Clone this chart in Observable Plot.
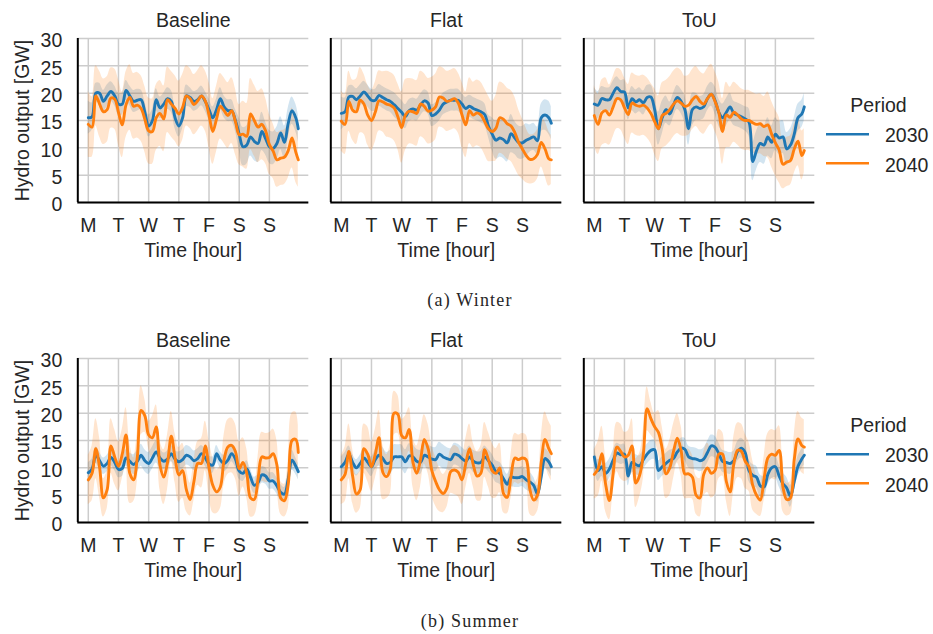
<!DOCTYPE html>
<html><head><meta charset="utf-8">
<script src="https://cdn.jsdelivr.net/npm/d3@7"></script>
<script src="https://cdn.jsdelivr.net/npm/@observablehq/plot@0.6"></script>
<style>
body{margin:0;background:#fff;}
#fig{position:relative;width:933px;height:634px;overflow:hidden;}
.panel{position:absolute;}
.panel svg{overflow:visible;}
#overlay{position:absolute;left:0;top:0;pointer-events:none;}
</style></head><body><div id="fig"></div>
<script>
// ---------------- data ----------------
const HOURS = [0,3,6,9,12,15,18,21,24,27,30,33,36,39,42,45,48,51,54,57,60,63,66,69,72,75,78,81,84,87,90,93,96,99,102,105,108,111,114,117,120,123,126,129,132,135,138,141,144,147,150,153,156,159,162,165,167];
const DAYS = ["M","T","W","T","F","S","S"];
const DAY_TICKS = [0,24,48,72,96,120,144];
const Y_TICKS = [0,5,10,15,20,25,30];
const PERIODS = ["2030","2040"];
const COLORS = ["#1f77b4","#ff7f0e"];
const SCENARIOS = ["Baseline","Flat","ToU"];
const SEASONS = ["(a) Winter","(b) Summer"];
const XLABEL = "Time [hour]";
const YLABEL = "Hydro output [GW]";
const LEGEND_TITLE = "Period";

// Winter
const WB30 = [15.5,15.7,20,20,18.5,19.5,20.3,19.5, 18,18,20.5,19.5,18.5,18.7,18.8,16.5, 14,15,18.8,17.3,18,19,18.5,15.5, 14,15.5,19.5,19.2,18.5,18.8,19.5,18.5, 17,15.5,17,19,17.5,16.8,16.8,15, 12.5,10.2,10.5,12,11.2,10.8,13,11.7, 10.2,9.9,10.8,12.7,11,14.5,16.8,15.5, 13.5];
const WB40 = [14.3,13.8,19.5,18,16.6,17,19.1,18.9, 16.5,14.2,17.9,19.2,17.6,17.8,17.2,15.2, 13.1,13,15.5,16.3,15.3,18.8,18,17.2, 16.2,17.4,19.5,19,17.9,18.6,19.5,18.6, 16,13,15.3,17.6,16.8,15.9,16.8,14.8, 12.4,12.5,12.1,16.2,15,13.8,14.3,13.1, 10.6,9.4,7.8,8.1,8.3,9.5,11.8,9.2, 7.8];
const WF30 = [16.3,16.6,19.3,19.4,18.8,19.5,20.2,19.5, 18.7,18.7,19.6,19.2,18.8,18.5,17.9,17.2, 16.5,15.7,16.8,17.1,16.9,17.8,18.6,18.2, 15.9,16.2,16.9,18,18.4,18.7,18.7,18.7, 18,17.2,17.6,17.2,16.9,16.6,16.1,14, 12.5,11.4,11.8,11.5,10.9,12.6,11.8,11, 10.9,11.4,11.7,12,11.3,15.5,16,15.5, 14.5];
const WF40 = [14.9,14.3,18.5,16.9,16.6,18.7,18,16, 15,16.5,18.6,18.4,18,17.8,17.3,15.7, 13.7,16,16.7,16.6,16.3,18,17.6,16.7, 16.9,17.5,19.3,19.1,18.5,18.7,19,18.2, 16,14.2,16.8,16,16.4,16,14.8,13.5, 13,13.6,15.5,15.2,14.4,14,12.8,11, 9.8,8.6,7.9,8,8.8,11,9.8,8, 7.8];
const WT30 = [18,17.8,19,18.8,18.8,20,21,20.3, 20.2,17.3,19,18.4,18.8,18.2,19.2,19.3, 17,13.5,15.5,17,16.2,17.8,19.2,18.5, 17,13.5,17,17.5,17.2,17.5,19,19.8, 18.7,16.5,15.5,16.5,17.5,16.3,16,15.7, 15.3,14.7,7.5,9.5,10.8,10.5,12,11, 12.5,11.8,12,9.8,10.5,12.5,15.5,16.2, 17.5];
const WT40 = [15.9,14.3,16.4,16.8,16,17.5,19,18.8, 17.3,16.1,18.2,17.8,17.6,17.8,17.3,16.3, 14.8,13.5,15.9,16.3,17,18,18.6,18.2, 17.6,17.8,18.8,19.4,18.5,18,19,19.8, 18.5,16.5,13,16,15.6,16.5,16,15.3, 15,15,14.6,14.3,14.4,13.9,14.2,12.5, 10.9,9.6,7,7.4,7.7,9.8,11.2,8.6, 9.5];
// Summer
const SB30 = [9.1,9.8,12.3,11.3,10.3,10.8,11.9,11, 9.7,9.9,11.8,11.2,10.6,11.2,12.3,11.3, 10.8,11.8,12.9,11.8,11.2,11.6,12.6,11.6, 11.1,11.5,12.3,12,11.3,11.7,12.6,11.8, 10.7,10.5,12.6,11.4,10.8,11.4,12.6,11.6, 9.4,9,9.8,8.3,6.8,7.3,8.7,8.5, 7.6,7.6,6.7,5.5,5.2,8,11.4,10.3, 9.3];
const SB40 = [7.8,9,13.5,10,4.5,6,14,12, 10.3,12.5,16,9,7.8,12,20.5,19.5, 16,15.5,17.5,10.5,8.3,11,15.8,11.8, 8.7,9.5,6,4.2,7.5,10.8,10.8,14, 10,6.8,5.6,6.5,11.5,13.8,14.1,13, 9.8,11,9,4.5,4.2,8,12,11.8, 11.9,12.6,10.5,4.5,4,7,15,15.2, 12.8];
const SF30 = [10.2,11,12.5,11,10,10.8,11.8,11, 10.2,11.5,12.3,11.7,10.8,11,12,12, 12,11.1,12.2,12,11.2,11,12.3,12, 11.6,11.5,12.5,12,11.7,11.5,12.5,12.3, 11.7,11.2,12,11.2,10.9,11,12,11.3, 10.5,9.3,9,8,7,8.3,8.2,8.2, 8.4,7.8,7.4,6.8,5.2,8.4,11.7,11.1, 10.2];
const SF40 = [7.8,8.8,13,8.5,5.2,6,13.5,12.5, 10.2,12.5,15.5,9.2,8.4,9.8,20,19.8, 15.9,15.5,17,11,9,11.5,15.2,13.5, 9.5,7.5,6,5.3,6.3,9.3,9.6,9.2, 7.8,10.8,13.5,10.5,8.5,9,13.3,11.5, 9.5,9,10,5.3,4.6,8.5,11.8,11.5, 11.8,11.5,6,4.1,5,11,15.2,13.5, 12.6];
const ST30 = [12,9.5,10.2,9,9.8,11.4,12.7,12.4, 12.5,8.5,11,10.6,10.4,11.5,12.5,13.2, 13.3,9.5,10.2,10.8,11.4,11.7,12.9,13.6, 13.4,12,11.7,11.6,11.3,11.6,12.8,14, 13.8,12.6,11.2,11,10.8,11.3,13,13.6, 12.8,9.5,8.6,8.3,6.7,6.5,8.8,10, 10.2,8.5,7.1,6.3,4.8,7.5,10.3,11.6, 12.3];
const ST40 = [8.8,9.8,12.6,7,4,9,13.8,13, 12,12.3,14,7.2,8.6,12.5,20.8,19, 17.5,16.5,13.5,8.9,10,13,15.4,13.2, 8.9,8.9,8.3,5,4.5,8.8,10,9, 9.5,12.5,12.5,7.5,5.6,10.8,13.2,13, 11.2,10.2,6.8,5,4.1,8,11.8,12.5, 12.3,13.2,6.5,4.2,4.5,11.5,15.3,14.1, 13.8];

// half-widths of the shaded confidence bands
const WB30_CI = [3,2.5,1.8,1.8,2,2,1.8,1.8, 2,2,1.8,1.8,2,2,1.8,2, 2,2,2,2,2,2,2,2, 2,2,2,1.8,1.8,1.8,1.8,1.8, 2,2,2,2,2,2,2,2, 3,3.5,3.5,3.5,3.5,3.5,3.5,3, 3,3,3,3,3,2.8,2.5,2.5, 2.5];
const WB40_CI = [6,5.5,5.5,6,6,6,5.5,5.5, 6,6,6,6,6,6,6,6, 6,6,6,6,6,6,6,6, 6,6,5.5,5.5,5.5,5.5,5.5,5.5, 6,6,6,6,6,6,6,6, 5.5,6,6,6.5,6.5,6.5,6.5,6, 5.5,5,5,5,5,5,5.5,5.5, 5];
const WF30_CI = [3,2.5,2,2,2,2,2,2, 2,2,2,2,2,2,2.2,2.2, 2.2,2.2,2,2,2,2,2,2, 2,2,2,2,2,2,2,2, 2,2,2,2,2,2,2,2, 3,3.5,3.5,3.5,3.5,3.5,3,3, 3,3,2.5,2.5,2.5,2.5,2.8,3, 3];
const WF40_CI = [5.5,5.5,5.5,5.5,6,6,5.5,5.5, 5.5,5.5,5.5,5.5,6,6,6,6, 6.5,6.5,6,6,6,6,6,6, 6,6,5.5,5.5,5.5,5.5,5.5,5.5, 6,6,6,6,6,6,6,6, 5.5,6,6.5,6.5,6.5,6.5,6.5,6, 5.5,5,4.5,4.5,4.5,4.5,5,5, 4.5];
const WT30_CI = [3,2.5,2.2,2.2,2.2,2.2,2,2, 2.2,2.2,2.2,2.2,2.2,2.2,2.2,2.2, 2.5,3,3,2.5,2.2,2.2,2.2,2.2, 2.5,3,3,2.5,2.2,2.2,2.2,2.2, 2.5,2.5,2.5,2.5,2.5,2.2,2.2,2.2, 2.2,2.5,3.5,3.5,3.5,3.5,3.5,3, 3,3,3,3,3,3,2.5,2.5, 2.5];
const WT40_CI = [5.5,5.5,6,6,5.5,5.5,5.5,5.5, 5.5,5.5,5.5,5.5,5.5,5.5,5.5,5.5, 6,6,6,6,6,6,6,6, 5.5,5.5,5.5,5.5,5.5,5.5,5.5,5.5, 5.5,5.5,6,6,5.5,5.5,5.5,5.5, 5.5,5.5,5.5,5.5,5.5,5.5,6,6, 6,6,4.5,4.5,4.5,4.5,4.5,4.5, 4];
const SB30_CI = [1.8,1.8,1.5,1.5,1.5,1.5,1.5,1.5, 1.5,1.5,1.5,1.5,1.8,2,2,2, 2,2,2,1.8,1.5,1.5,1.5,1.5, 1.8,1.8,1.8,1.8,1.8,1.8,1.5,1.5, 1.5,1.5,1.5,1.5,1.5,1.5,1.5,1.5, 1.5,1.5,1.5,1.5,1.5,1.5,1.5,1.5, 1.5,1.5,1.5,1.5,1.2,1.5,1.8,1.5, 1.5];
const SB40_CI = [4.5,5,5.5,5.5,3.5,3.5,5,5, 4.5,4.5,5,5.5,4,4.5,4.5,3, 2.5,4,4,4.5,5,5,4.5,4.5, 5,5,4,3,3.5,4,4.5,4.5, 5,5,4,4,4.5,5,5,5, 5,4.5,4.5,3.5,3,4,4.5,4.5, 4.5,4.5,4.5,3,3,4.5,5,5, 5];
const SF30_CI = [1.8,1.8,1.5,1.5,1.5,1.5,1.8,1.8, 1.8,1.8,2,2,2,2.2,2.2,2.2, 2.2,2.2,2.2,2.2,2.2,2.2,2.2,2.2, 2.2,2.2,2.2,2.2,2,2,2,2, 2,2,2,2,2,2,2,2, 2,2,2,2,1.8,1.8,1.8,1.8, 1.8,1.8,1.8,1.5,1.5,1.5,1.8,1.8, 1.8];
const SF40_CI = [4.5,5,5,5,3.5,3.5,4.5,5, 4.5,4.5,5,5,4,4.5,4,3.5, 3,4,4,4.5,5,5,4.5,4.5, 4.5,4.5,4,3.5,3.5,4,4.5,4.5, 4.5,4.5,4.5,4,4.5,5,5,5, 5,4.5,4.5,3.5,3,4,4.5,4.5, 4.5,4.5,4.5,3,3,4.5,5,5, 5];
const ST30_CI = [2,2,1.8,1.8,1.8,1.8,1.8,1.8, 1.8,1.8,1.8,1.8,1.8,1.8,1.8,1.8, 1.8,1.8,1.8,1.8,1.8,1.8,1.8,1.8, 2,2,2,2,2,2,2,2, 2,2,2,2,2,1.8,1.8,1.8, 1.8,2,2,2,2,2,2,2, 2,2,2,2,2,1.8,1.8,1.8, 1.8];
const ST40_CI = [4.5,5,5,5,3.5,3.5,4.5,5, 4.5,4.5,5,4.5,4,4.5,4,3, 2.5,4,4,4.5,5,5,4.5,4.5, 4.5,4.5,4,3.5,3.5,4,4.5,4.5, 4.5,4.5,4,3.5,4.5,5,5,5, 5,4.5,4.5,3.5,3,4,4.5,4.5, 4.5,4.5,4.5,3,3,4.5,5,5, 5];

const GRID = [
  [[WB30,WB30_CI,WB40,WB40_CI],[WF30,WF30_CI,WF40,WF40_CI],[WT30,WT30_CI,WT40,WT40_CI]],
  [[SB30,SB30_CI,SB40,SB40_CI],[SF30,SF30_CI,SF40,SF40_CI],[ST30,ST30_CI,ST40,ST40_CI]]
];

// ---------------- drawing ----------------
const FONT = '"Liberation Sans", Arial, sans-serif';
const FS = 19.5;
const INK = "#262626";
const CURVE = "catmull-rom";
const PAD = 0.05 * (HOURS[HOURS.length - 1] - HOURS[0]);
const XDOM = [HOURS[0] - PAD, HOURS[HOURS.length - 1] + PAD];

function panel(title, s30, c30, s40, c40, withY) {
  const rows = [];
  [[PERIODS[0], s30, c30], [PERIODS[1], s40, c40]].forEach(([p, v, c]) => {
    if (v.length !== HOURS.length || c.length !== HOURS.length)
      throw new Error(title + " " + p + " length " + v.length + "/" + c.length);
    HOURS.forEach((h, i) => rows.push({hour: h, period: p, v: v[i], lo: v[i] - c[i], hi: v[i] + c[i]}));
  });
  const grid = {stroke: "#cccccc", strokeOpacity: 1, strokeWidth: 1.5};
  return Plot.plot({
    width: 312, height: 266,
    marginLeft: 77.3, marginRight: 3.7, marginTop: 38, marginBottom: 64,
    style: {fontFamily: FONT, fontSize: FS + "px", color: INK, background: "transparent", overflow: "visible"},
    x: {domain: XDOM, axis: null},
    y: {domain: [0, 30], axis: null},
    color: {domain: PERIODS, range: COLORS},
    marks: [
      Plot.gridX(DAY_TICKS, grid),
      Plot.gridY(Y_TICKS, grid),
      Plot.areaY(rows, {x: "hour", y1: "lo", y2: "hi", z: "period", fill: "period", fillOpacity: 0.2, curve: CURVE, clip: true}),
      Plot.line(rows, {x: "hour", y: "v", z: "period", stroke: "period", strokeWidth: 2.9, curve: CURVE, clip: true}),
      Plot.ruleX([XDOM[0]], {stroke: "#000", strokeWidth: 2}),
      Plot.ruleY([0], {stroke: "#000", strokeWidth: 2}),
      Plot.axisX(DAY_TICKS, {tickSize: 0, tickPadding: 16, tickFormat: d => DAYS[d / 24], label: null}),
      withY ? Plot.axisY(Y_TICKS, {tickSize: 0, tickPadding: 15.5, dy: 2.5, label: null}) : null,
      Plot.text([title], {frameAnchor: "top", textAnchor: "middle", lineAnchor: "middle", dy: -18.2}),
      Plot.text([XLABEL], {frameAnchor: "bottom", textAnchor: "middle", lineAnchor: "middle", dy: 47.8}),
      withY ? Plot.text([YLABEL], {frameAnchor: "left", textAnchor: "middle", lineAnchor: "middle", dx: -55.4, rotate: -90}) : null
    ]
  });
}

const fig = document.getElementById("fig");
const LEFTS = [0, 253.4, 506];
const ROW_TOP = [0, 320];
GRID.forEach((row, r) => {
  row.forEach(([a, ac, b, bc], c) => {
    const div = document.createElement("div");
    div.className = "panel";
    div.style.left = LEFTS[c] + "px";
    div.style.top = ROW_TOP[r] + "px";
    div.appendChild(panel(SCENARIOS[c], a, ac, b, bc, c === 0));
    fig.appendChild(div);
  });
});

// legends and captions
const ns = "http://www.w3.org/2000/svg";
const ov = document.createElementNS(ns, "svg");
ov.setAttribute("id", "overlay");
ov.setAttribute("width", 933);
ov.setAttribute("height", 634);
function txt(s, x, y, anchor, font, size, extra) {
  const t = document.createElementNS(ns, "text");
  t.setAttribute("x", x); t.setAttribute("y", y);
  t.setAttribute("text-anchor", anchor);
  t.setAttribute("font-family", font);
  t.setAttribute("font-size", size);
  t.setAttribute("fill", INK);
  if (extra) for (const k in extra) t.setAttribute(k, extra[k]);
  t.textContent = s;
  ov.appendChild(t);
}
function seg(x1, x2, y, color) {
  const l = document.createElementNS(ns, "line");
  l.setAttribute("x1", x1); l.setAttribute("x2", x2);
  l.setAttribute("y1", y); l.setAttribute("y2", y);
  l.setAttribute("stroke", color); l.setAttribute("stroke-width", 2.6);
  ov.appendChild(l);
}
ROW_TOP.forEach((oy, r) => {
  txt(LEGEND_TITLE, 878.5, 112.3 + oy, "middle", FONT, FS);
  PERIODS.forEach((p, i) => {
    seg(826, 869, 134.3 + oy + i * 29, COLORS[i]);
    txt(p, 885, 142.3 + oy + i * 29.4, "start", FONT, FS);
  });
  txt(SEASONS[r], 470, [306, 627][r], "middle", '"Liberation Serif", "Times New Roman", serif', 18, {"letter-spacing": "1.2"});
});
fig.appendChild(ov);
</script></body></html>
